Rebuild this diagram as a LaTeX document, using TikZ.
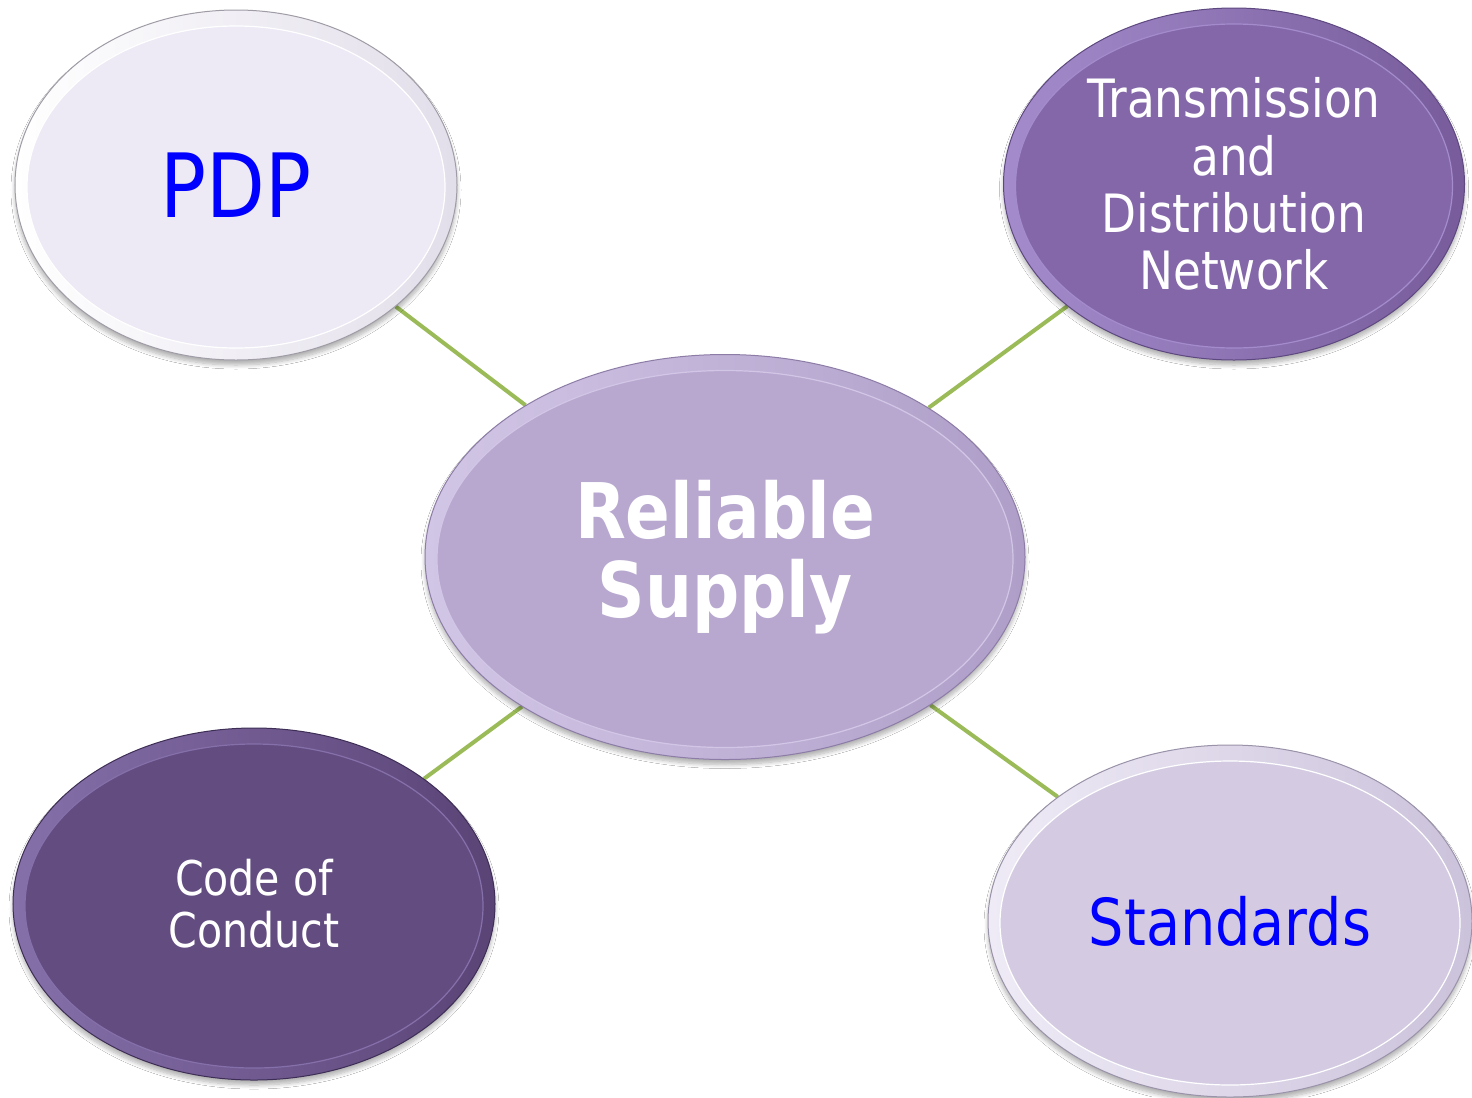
\documentclass[tikz,border=0pt]{standalone}
\usepackage{fontspec}
\setmainfont{DejaVu Sans}[FakeStretch=0.86]
\usetikzlibrary{shapes.geometric,shadows.blur,calc}
\pgfdeclarelayer{background}
\pgfsetlayers{background,main}
\definecolor{pdpB}{HTML}{EDE9F5}
\definecolor{pdpR}{HTML}{E2DEEA}
\definecolor{pdpE}{HTML}{A09CA6}
\definecolor{tdnB}{HTML}{8467A8}
\definecolor{tdnL}{HTML}{A48CCC}
\definecolor{tdnR}{HTML}{775B9A}
\definecolor{tdnE}{HTML}{5E4880}
\definecolor{cenB}{HTML}{B8A8D0}
\definecolor{cenL}{HTML}{D2C6E6}
\definecolor{cenR}{HTML}{AE9EC8}
\definecolor{cenE}{HTML}{8C7CA6}
\definecolor{cocB}{HTML}{634C80}
\definecolor{cocL}{HTML}{8670AA}
\definecolor{cocR}{HTML}{5A4476}
\definecolor{cocE}{HTML}{3E2E56}
\definecolor{stdB}{HTML}{D4CBE3}
\definecolor{stdL}{HTML}{EFEBF6}
\definecolor{stdR}{HTML}{CBC2DB}
\definecolor{stdE}{HTML}{9A92A8}
\definecolor{conn}{HTML}{9BBB59}
\definecolor{bluetext}{HTML}{0000FF}
\tikzset{
  bub/.style={ellipse, inner sep=0pt, align=center, line width=1bp,
    blur shadow={shadow xshift=0bp, shadow yshift=-5bp, shadow blur radius=4bp, shadow opacity=30, shadow blur steps=8}},
  core/.style 2 args={path picture={
    \path[fill=#1, draw=#2, line width=1.2bp]
      let \p1=(path picture bounding box.north east),
          \p2=(path picture bounding box.center) in
      ([yshift=-2bp]\p2) ellipse ({\x1-\x2-12bp} and {\y1-\y2-14bp});}},
  link/.style={draw=conn, line width=4bp}
}
\begin{document}
\begin{tikzpicture}[x=1bp,y=-1bp]
\useasboundingbox (0,0) rectangle (1472,1097);

\node[bub, minimum width=442bp, minimum height=350bp,
  left color=white, right color=pdpR, draw=pdpE, core={pdpB}{white},
  text=bluetext, font=\fontsize{89}{100}\selectfont] (pdp) at (236,185) {PDP};

\node[bub, minimum width=461bp, minimum height=352bp,
  left color=tdnL, right color=tdnR, draw=tdnE, core={tdnB}{tdnL},
  text=white, font=\fontsize{53}{57.5}\selectfont] (tdn) at (1234,184)
  {Transmission\\and\\Distribution\\Network};

\node[bub, minimum width=600bp, minimum height=405bp,
  left color=cenL, right color=cenR, draw=cenE, core={cenB}{cenL},
  text=white, font=\fontsize{77}{79}\selectfont\bfseries] (cen) at (725,557)
  {Reliable\\Supply};

\node[bub, minimum width=482bp, minimum height=352bp,
  left color=cocL, right color=cocR, draw=cocE, core={cocB}{cocL},
  text=white, font=\fontsize{48}{52}\selectfont] (coc) at (254,904)
  {Code of\\Conduct};

\node[bub, minimum width=484bp, minimum height=352bp,
  left color=stdL, right color=stdR, draw=stdE, core={stdB}{white},
  text=bluetext, font=\fontsize{65}{70}\selectfont] (std) at (1230,921)
  {Standards};

\begin{pgfonlayer}{background}
  \fill[white] (0,0) rectangle (1472,1097);
  \draw[link] (cen) -- (pdp);
  \draw[link] (cen) -- (tdn);
  \draw[link] (cen) -- (coc);
  \draw[link] (cen) -- (std);
\end{pgfonlayer}
\end{tikzpicture}
\end{document}
